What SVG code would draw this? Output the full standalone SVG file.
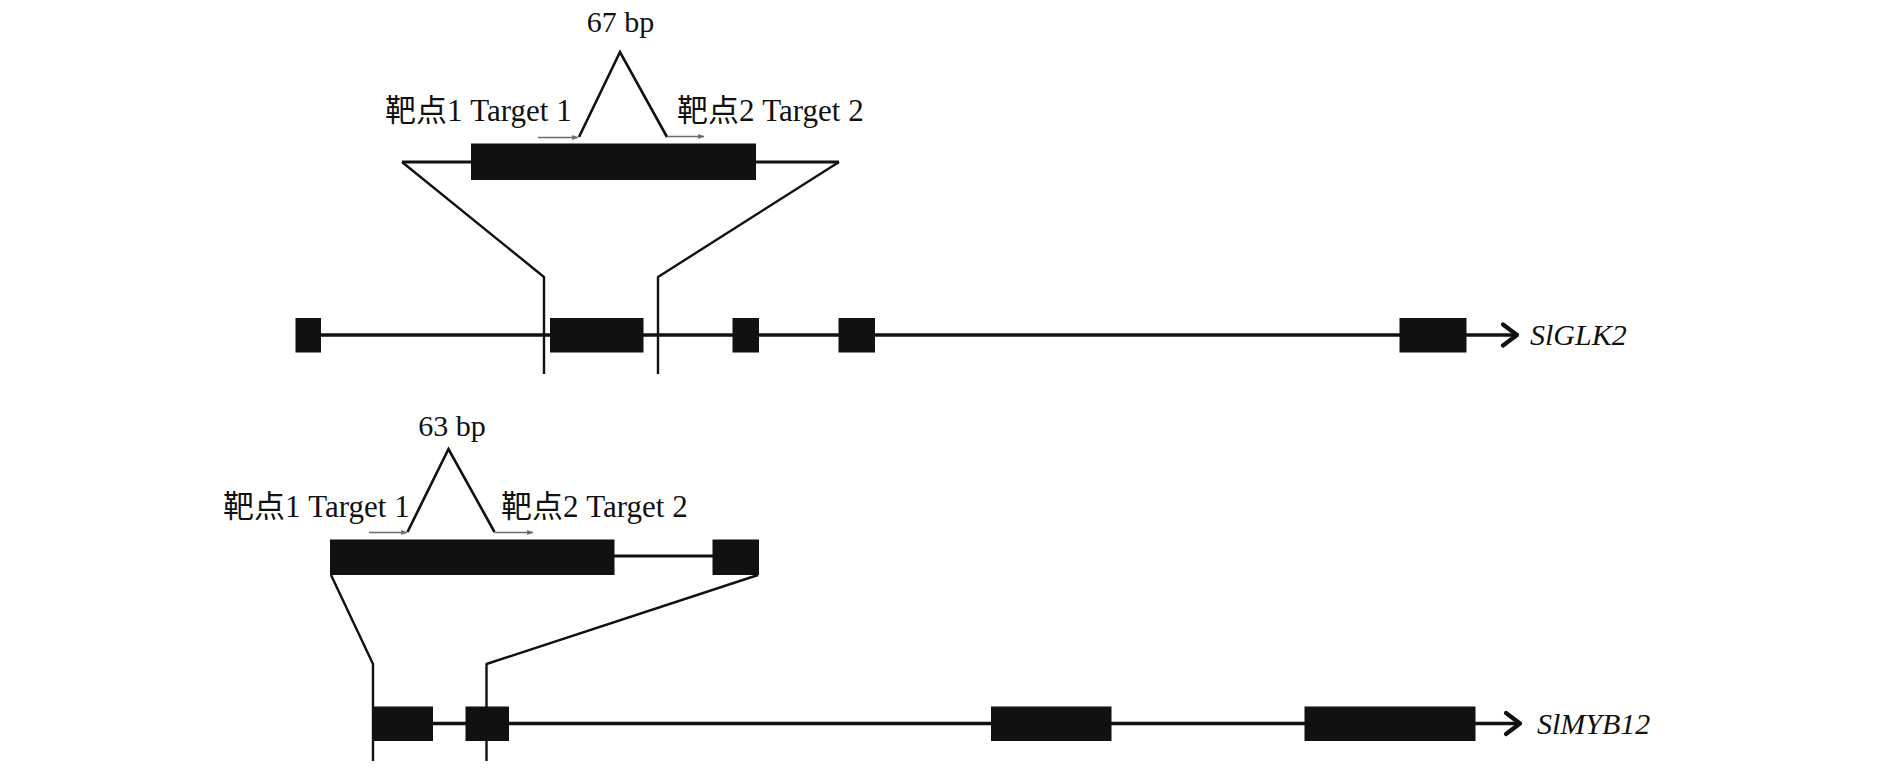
<svg xmlns="http://www.w3.org/2000/svg" width="1890" height="780" viewBox="0 0 1890 780">
  <defs>
    <style>
      .exon { fill: #111111; }
      .gene { stroke: #111111; stroke-width: 3.5; fill: none; }
      .detail { stroke: #111111; stroke-width: 3; fill: none; }
      .funnel { stroke: #111111; stroke-width: 2.4; fill: none; stroke-linejoin: round; }
      .tri { stroke: #111111; stroke-width: 2.6; fill: none; stroke-linejoin: miter; }
      .target { stroke: #6b6b6b; stroke-width: 1.6; fill: none; }
      .chev { stroke: #111111; stroke-width: 4.2; fill: none; stroke-linecap: round; stroke-linejoin: round; }
      .lbl { font-family: "Liberation Serif", "Noto Sans CJK SC", serif; font-size: 30px; fill: #111111; }
      .tgt { font-family: "Liberation Serif", "Noto Sans CJK SC", serif; font-size: 31px; fill: #111111; }
      .gname { font-family: "Liberation Serif", serif; font-size: 30px; font-style: italic; fill: #111111; }
    </style>
    <marker id="grayArrow" viewBox="0 0 10 10" refX="9" refY="5" markerWidth="6.5" markerHeight="6.5" orient="auto" markerUnits="userSpaceOnUse">
      <path d="M0,1 L10,5 L0,9 Z" fill="#6b6b6b"/>
    </marker>
  </defs>
  <rect width="1890" height="780" fill="#ffffff"/>

  <g id="connectors">
    <!-- SlGLK2 gene backbone -->
    <line class="gene" x1="296" y1="335" x2="1516" y2="335"/>
    <polyline class="chev" points="1503,324.5 1517,335 1503,345.5"/>
    <!-- SlGLK2 detail line -->
    <line class="detail" x1="402" y1="162" x2="839" y2="162"/>
    <!-- SlGLK2 funnel -->
    <polyline class="funnel" points="402,162 544,277 544,374"/>
    <polyline class="funnel" points="839,162 658,277 658,374"/>
    <!-- 67 bp deletion -->
    <polyline class="tri" points="579,137 620,52 667,137"/>
    <line class="target" x1="538" y1="137.5" x2="578" y2="137.5" marker-end="url(#grayArrow)"/>
    <line class="target" x1="667" y1="136.5" x2="704" y2="136.5" marker-end="url(#grayArrow)"/>

    <!-- SlMYB12 gene backbone -->
    <line class="gene" x1="373" y1="723.5" x2="1519" y2="723.5"/>
    <polyline class="chev" points="1506,713 1520,723.5 1506,734"/>
    <!-- SlMYB12 detail line -->
    <line class="detail" x1="614" y1="556" x2="713" y2="556"/>
    <!-- SlMYB12 funnel -->
    <polyline class="funnel" points="331,575 373,664 373,761"/>
    <polyline class="funnel" points="758,575 486.5,664 486.5,761"/>
    <!-- 63 bp deletion -->
    <polyline class="tri" points="407.5,532 448.5,449 494.5,532"/>
    <line class="target" x1="369" y1="532.5" x2="407" y2="532.5" marker-end="url(#grayArrow)"/>
    <line class="target" x1="494.5" y1="532.5" x2="533" y2="532.5" marker-end="url(#grayArrow)"/>
  </g>

  <g id="slglk2-exon1"><rect class="exon" x="295.5" y="318" width="25.5" height="34.5"/></g>
  <g id="slglk2-exon2"><rect class="exon" x="550" y="318" width="93.5" height="34.5"/></g>
  <g id="slglk2-exon3"><rect class="exon" x="732.5" y="318" width="26.5" height="34.5"/></g>
  <g id="slglk2-exon4"><rect class="exon" x="838.5" y="318" width="36.5" height="34.5"/></g>
  <g id="slglk2-exon5"><rect class="exon" x="1399.5" y="318" width="67" height="34.5"/></g>
  <g id="slglk2-label"><text class="gname" x="1530" y="345">SlGLK2</text></g>

  <g id="slglk2-detail-exon"><rect class="exon" x="471" y="143.5" width="285" height="36.5"/></g>
  <g id="slglk2-del-label"><text class="lbl" x="620.5" y="32" text-anchor="middle">67 bp</text></g>
  <g id="slglk2-target1"><text class="tgt" x="385" y="121">靶点1 Target 1</text></g>
  <g id="slglk2-target2"><text class="tgt" x="677" y="121">靶点2 Target 2</text></g>

  <g id="slmyb12-exon1"><rect class="exon" x="373" y="706.5" width="60" height="34.5"/></g>
  <g id="slmyb12-exon2"><rect class="exon" x="465.5" y="706.5" width="43.5" height="34.5"/></g>
  <g id="slmyb12-exon3"><rect class="exon" x="991" y="706.5" width="120.5" height="34.5"/></g>
  <g id="slmyb12-exon4"><rect class="exon" x="1304.5" y="706.5" width="171" height="34.5"/></g>
  <g id="slmyb12-label"><text class="gname" x="1537" y="734">SlMYB12</text></g>

  <g id="slmyb12-detail-exon1"><rect class="exon" x="330" y="539.5" width="284.5" height="35.5"/></g>
  <g id="slmyb12-detail-exon2"><rect class="exon" x="712.5" y="539.5" width="46.5" height="35.5"/></g>
  <g id="slmyb12-del-label"><text class="lbl" x="452" y="435.5" text-anchor="middle">63 bp</text></g>
  <g id="slmyb12-target1"><text class="tgt" x="223" y="516.5">靶点1 Target 1</text></g>
  <g id="slmyb12-target2"><text class="tgt" x="501" y="516.5">靶点2 Target 2</text></g>
</svg>
